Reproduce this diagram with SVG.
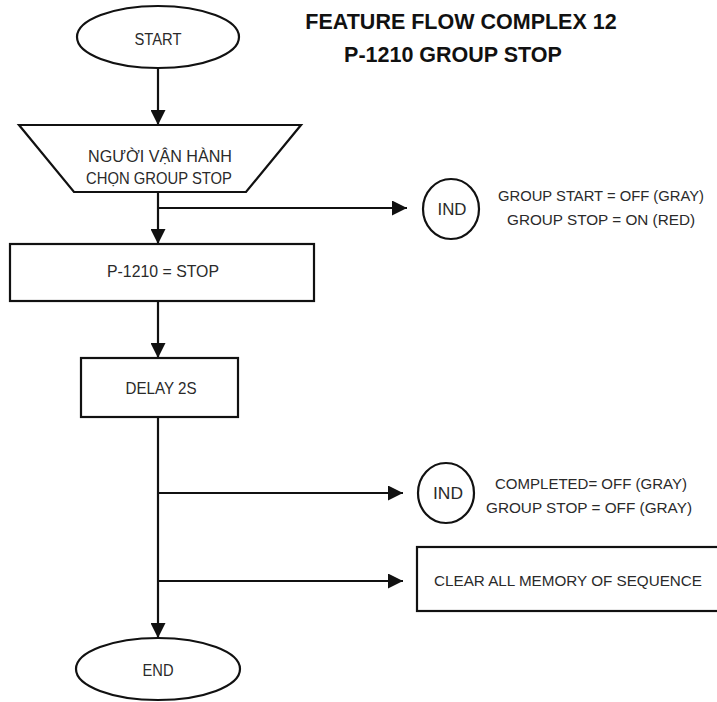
<svg xmlns="http://www.w3.org/2000/svg" width="717" height="702" viewBox="0 0 717 702">
<defs>
<marker id="ah" markerUnits="userSpaceOnUse" markerWidth="15" markerHeight="15" refX="15" refY="7.5" orient="auto">
<path d="M0,0 L15,7.5 L0,15 z" fill="#111"/>
</marker>
<style>
.shape{fill:#fff;stroke:#111;stroke-width:2.2}
.t{font-family:"Liberation Sans",Arial,sans-serif;font-size:16px;fill:#2a2a2a;text-anchor:middle}
.s{font-size:15px}
.title{font-family:"Liberation Sans",Arial,sans-serif;font-size:21.5px;font-weight:bold;fill:#111;text-anchor:middle}
.c{stroke:#111;stroke-width:2.2;fill:none}
</style>
</defs>
<rect width="717" height="702" fill="#fff"/>
<g id="title">
<text class="title" x="461" y="29">FEATURE FLOW COMPLEX 12</text>
<text class="title" x="453" y="62">P-1210 GROUP STOP</text>
</g>
<g id="connectors">
<line class="c" x1="158" y1="68" x2="158" y2="125" marker-end="url(#ah)"/>
<line class="c" x1="158" y1="192" x2="158" y2="244" marker-end="url(#ah)"/>
<line class="c" x1="158" y1="208" x2="407" y2="208" marker-end="url(#ah)"/>
<line class="c" x1="158" y1="301" x2="158" y2="358" marker-end="url(#ah)"/>
<line class="c" x1="158" y1="417" x2="158" y2="638" marker-end="url(#ah)"/>
<line class="c" x1="158" y1="493" x2="403" y2="493" marker-end="url(#ah)"/>
<line class="c" x1="158" y1="581" x2="403" y2="581" marker-end="url(#ah)"/>
</g>
<g id="start">
<ellipse class="shape" cx="158" cy="37" rx="81" ry="31"/>
<text class="t" x="158" y="45" textLength="47" lengthAdjust="spacingAndGlyphs">START</text>
</g>
<g id="operator">
<polygon class="shape" points="19,125 301,125 246,192 74,192"/>
<text class="t" x="160" y="162" style="font-size:17px" textLength="144" lengthAdjust="spacingAndGlyphs">NGƯỜI VẬN HÀNH</text>
<text class="t" x="159" y="184" style="font-size:17px" textLength="146" lengthAdjust="spacingAndGlyphs">CHỌN GROUP STOP</text>
</g>
<g id="ind1">
<ellipse class="shape" cx="451" cy="209" rx="28" ry="30"/>
<text class="t" x="452" y="215" style="font-size:17px" textLength="29" lengthAdjust="spacingAndGlyphs">IND</text>
</g>
<g id="ind1-label">
<text class="t s" x="601" y="201" textLength="206" lengthAdjust="spacingAndGlyphs">GROUP START = OFF (GRAY)</text>
<text class="t s" x="601" y="225" textLength="188" lengthAdjust="spacingAndGlyphs">GROUP STOP = ON (RED)</text>
</g>
<g id="p1210">
<rect class="shape" x="10" y="244" width="304" height="57"/>
<text class="t" x="163" y="277" style="font-size:17px" textLength="112" lengthAdjust="spacingAndGlyphs">P-1210 = STOP</text>
</g>
<g id="delay">
<rect class="shape" x="81" y="358" width="157" height="59"/>
<text class="t" x="161" y="394" style="font-size:17px" textLength="71" lengthAdjust="spacingAndGlyphs">DELAY 2S</text>
</g>
<g id="ind2">
<ellipse class="shape" cx="446" cy="493" rx="28" ry="30"/>
<text class="t" x="448" y="499" style="font-size:17px" textLength="30" lengthAdjust="spacingAndGlyphs">IND</text>
</g>
<g id="ind2-label">
<text class="t s" x="591" y="489" textLength="192" lengthAdjust="spacingAndGlyphs">COMPLETED= OFF (GRAY)</text>
<text class="t s" x="589" y="513" textLength="206" lengthAdjust="spacingAndGlyphs">GROUP STOP = OFF (GRAY)</text>
</g>
<g id="clear">
<rect class="shape" x="417" y="547" width="320" height="64"/>
<text class="t s" x="568" y="586" textLength="268" lengthAdjust="spacingAndGlyphs">CLEAR ALL MEMORY OF SEQUENCE</text>
</g>
<g id="end">
<ellipse class="shape" cx="158" cy="669" rx="82" ry="31"/>
<text class="t" x="158" y="676" textLength="31" lengthAdjust="spacingAndGlyphs">END</text>
</g>
</svg>
